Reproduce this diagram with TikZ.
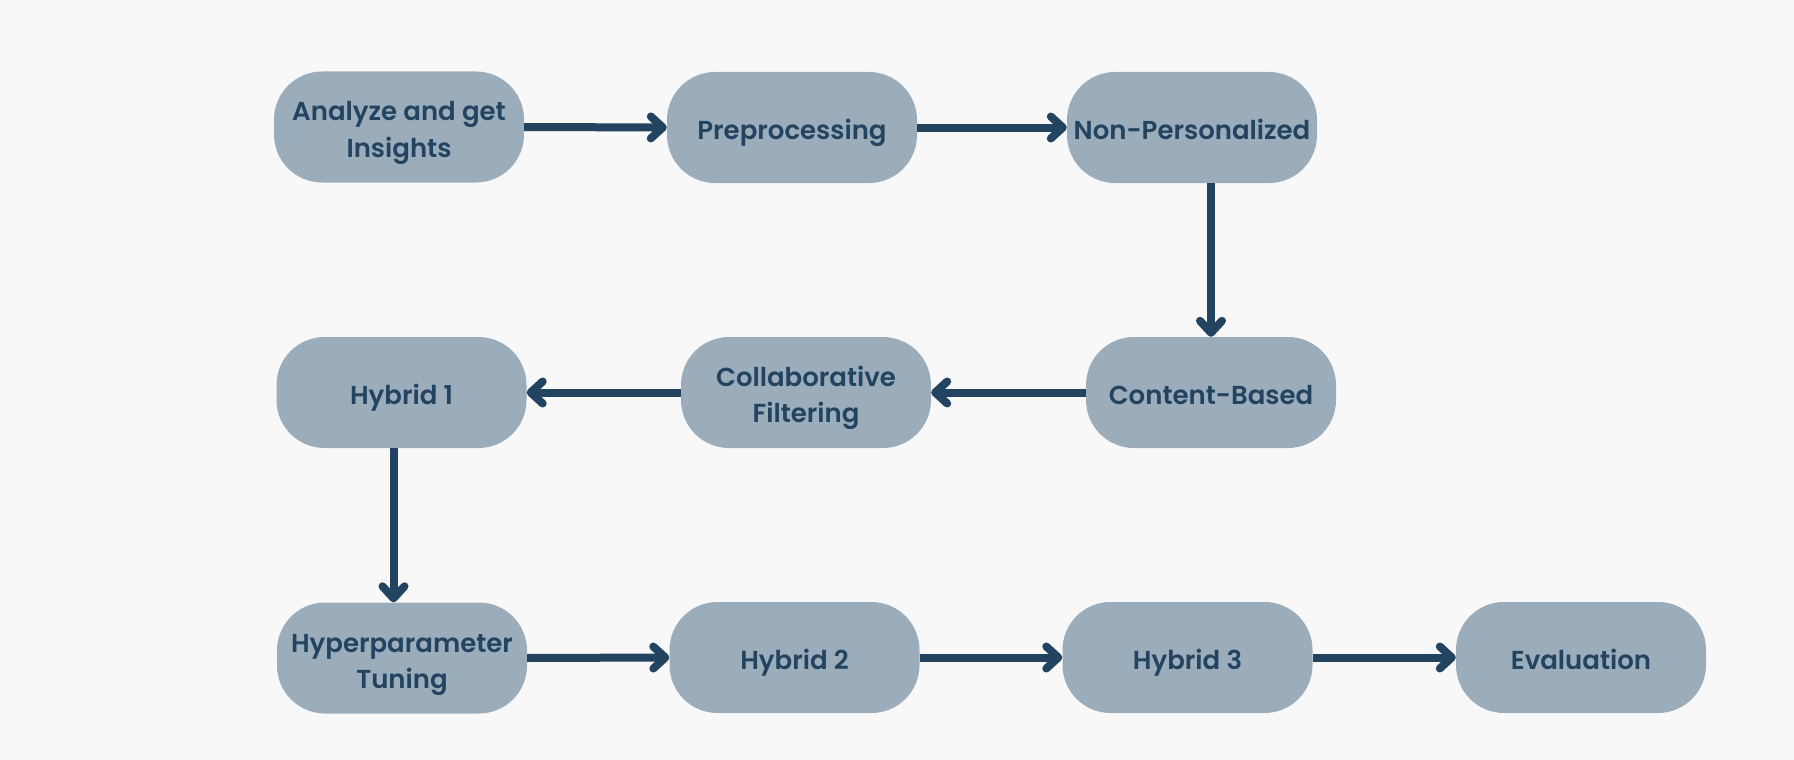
\documentclass[tikz,border=0pt]{standalone}
\usepackage{fontspec}
\setmainfont{Poppins SemiBold}
\usetikzlibrary{arrows.meta}
\definecolor{bg}{RGB}{248,248,248}
\definecolor{boxc}{RGB}{155,173,187}
\definecolor{ink}{RGB}{34,68,96}
\begin{document}
\begin{tikzpicture}[x=1pt,y=-1pt,
  stage/.style={fill=boxc, rounded corners=48pt, minimum width=250pt, minimum height=111pt,
    inner sep=0pt, text=ink, font=\fontsize{26}{36}\selectfont, align=center,
    text depth=0pt, text height=24pt},
  twoline/.style={text height=60pt},
  flow/.style={draw=ink, line width=8pt, -{Straight Barb[length=12pt,width=22pt,round]}}]
\fill[bg] (0,0) rectangle (1794,760);
\useasboundingbox (0,0) rectangle (1794,760);
\node[stage,twoline] (analyze) at (399,127) {Analyze and get\\Insights};
\node[stage] (prep)    at (792,127.5) {Preprocessing};
\node[stage] (nonpers) at (1192,127.5) {Non-Personalized};
\node[stage] (hyb1)    at (401.5,392.5) {Hybrid 1};
\node[stage,twoline] (collab)  at (806,392.5) {Collaborative\\Filtering};
\node[stage] (content) at (1211,392.5) {Content-Based};
\node[stage,twoline] (hyper)   at (402,658) {Hyperparameter\\Tuning};
\node[stage] (hyb2)    at (794.5,657.5) {Hybrid 2};
\node[stage] (hyb3)    at (1187.5,657.5) {Hybrid 3};
\node[stage] (eval)    at (1581,657.5) {Evaluation};
\draw[flow] (analyze.east) -- (prep.west);
\draw[flow] (prep.east) -- (nonpers.west);
\draw[flow] (nonpers.south -| content.north) -- (content.north);
\draw[flow] (content.west) -- (collab.east);
\draw[flow] (collab.west) -- (hyb1.east);
\draw[flow] ([xshift=-8pt]hyb1.south) -- ([xshift=-8pt]hyb1.south |- hyper.north);
\draw[flow] (hyper.east) -- (hyb2.west);
\draw[flow] (hyb2.east) -- (hyb3.west);
\draw[flow] (hyb3.east) -- (eval.west);
\end{tikzpicture}
\end{document}
